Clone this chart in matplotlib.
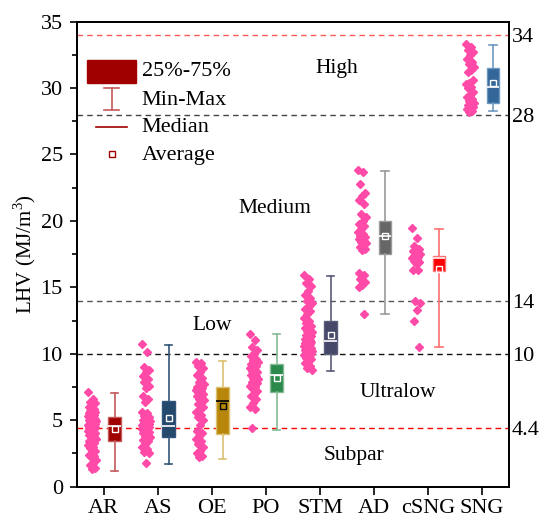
import matplotlib
matplotlib.use('Agg')
import matplotlib.pyplot as plt
from matplotlib.patches import Rectangle
from matplotlib.lines import Line2D

plt.rcParams['font.family'] = ['Liberation Serif', 'DejaVu Serif']
plt.rcParams['mathtext.fontset'] = 'custom'
plt.rcParams['mathtext.rm'] = 'Liberation Serif'

CATEGORIES = ["AR", "AS", "OE", "PO", "STM", "AD", "cSNG", "SNG"]

# box statistics
Q1 = [3.46, 3.76, 3.97, 7.15, 9.98, 17.48, 16.25, 28.87]
MEDIAN = [4.57, 4.59, 6.47, 8.43, 10.93, 18.89, 17.18, 30.05]
Q3 = [5.21, 6.42, 7.52, 9.20, 12.44, 19.96, 17.36, 31.53]
MEAN = [4.36, 5.14, 6.04, 8.15, 11.39, 18.90, 16.38, 30.35]
WMIN = [1.20, 1.71, 2.08, 4.27, 8.70, 13.02, 10.48, 28.24]
WMAX = [7.02, 10.66, 9.48, 11.50, 15.83, 23.73, 19.41, 33.23]

# individual samples
AR = [7.1, 6.6, 6.4, 6.3, 6.2, 6.0, 5.8, 5.7, 5.6, 5.5, 5.5, 5.4, 5.3, 5.3,
      5.2, 5.2, 5.1, 5.1, 5.0, 5.0, 4.9, 4.9, 4.8, 4.8, 4.7, 4.7, 4.6, 4.6,
      4.5, 4.5, 4.4, 4.4, 4.3, 4.3, 4.2, 4.2, 4.1, 4.0, 4.0, 3.9, 3.8, 3.7,
      3.6, 3.5, 3.4, 3.3, 3.2, 3.1, 3.0, 2.9, 2.7, 2.6, 2.4, 2.3, 2.2, 2.0,
      1.8, 1.6, 1.4, 1.3]
AS = [10.7, 10.1, 9.0, 8.8, 8.6, 8.3, 8.1, 7.9, 7.6, 7.4, 6.8, 6.6, 6.4, 5.6,
      5.5, 5.3, 5.2, 5.1, 5.0, 5.0, 4.9, 4.9, 4.8, 4.8, 4.7, 4.7, 4.6, 4.6,
      4.5, 4.5, 4.5, 4.4, 4.4, 4.3, 4.3, 4.2, 4.2, 4.1, 4.0, 4.0, 3.9, 3.8,
      3.7, 3.6, 3.5, 3.4, 3.2, 3.0, 2.8, 2.6, 2.5, 1.8]
OE = [9.4, 9.3, 9.1, 8.9, 8.6, 8.4, 8.2, 7.9, 7.7, 7.6, 7.5, 7.4, 7.4, 7.3,
      7.2, 7.1, 7.0, 6.9, 6.8, 6.7, 6.6, 6.5, 6.4, 6.2, 6.0, 5.8, 5.6, 5.4,
      5.2, 5.0, 4.6, 4.2, 4.0, 3.8, 3.6, 3.4, 3.2, 3.0, 2.7, 2.5, 2.3, 2.2]
PO = [11.5, 11.0, 10.5, 10.3, 10.0, 9.8, 9.6, 9.5, 9.4, 9.3, 9.2, 9.1, 9.0,
      8.9, 8.8, 8.7, 8.6, 8.5, 8.4, 8.3, 8.2, 8.1, 8.0, 7.9, 7.8, 7.7, 7.6,
      7.5, 7.4, 7.2, 7.0, 6.8, 6.6, 6.3, 6.0, 5.8, 4.4]
STM = [15.9, 15.6, 15.3, 15.1, 14.7, 14.4, 14.2, 14.0, 13.8, 13.6, 13.4, 13.2,
       13.0, 12.7, 12.5, 12.3, 12.1, 12.0, 11.9, 11.8, 11.7, 11.6, 11.5, 11.4,
       11.3, 11.2, 11.1, 11.0, 11.0, 10.9, 10.8, 10.8, 10.7, 10.6, 10.6, 10.5,
       10.5, 10.4, 10.4, 10.3, 10.3, 10.2, 10.2, 10.1, 10.1, 10.0, 10.0, 9.9,
       9.8, 9.7, 9.6, 9.5, 9.3, 9.1, 8.9, 8.8]
AD = [23.8, 23.7, 22.8, 22.1, 21.9, 21.6, 21.3, 20.5, 20.3, 20.0, 19.8, 19.6,
      19.4, 19.2, 19.0, 18.9, 18.8, 18.7, 18.6, 18.5, 18.4, 18.3, 18.2, 18.0,
      17.9, 17.8, 16.1, 15.9, 15.6, 15.4, 15.2, 15.0, 13.0]
CSNG = [19.5, 18.7, 18.1, 17.9, 17.8, 17.7, 17.6, 17.5, 17.5, 17.4, 17.3, 17.3,
        17.2, 17.2, 17.1, 17.0, 16.9, 16.8, 16.3, 16.3, 14.0, 13.8, 13.3, 12.5,
        10.5]
SNG = [33.3, 33.1, 32.9, 32.7, 32.5, 32.2, 32.0, 31.8, 31.6, 31.4, 31.2, 30.6,
       30.4, 30.3, 30.1, 30.0, 29.7, 29.5, 29.3, 29.2, 29.0, 28.9, 28.8, 28.7,
       28.6, 28.5, 28.4, 28.3, 28.2]
SAMPLES = [AR, AS, OE, PO, STM, AD, CSNG, SNG]

THRESHOLDS = [34, 28, 14, 10, 4.4]
THRESH_COLORS = ['#ff5a5a', '#444444', '#555555', '#111111', '#ff0000']
RIGHT_TICKS = [4.4, 10, 14, 28, 34]
RIGHT_LABELS = ["4.4", "10", "14", "28", "34"]

REGIONS = [("High", 4.31, 31.5), ("Medium", 3.16, 20.9), ("Low", 2.0, 12.1),
           ("Ultralow", 5.44, 7.1), ("Subpar", 4.64, 2.37)]

FACE = ['#a00000', '#25486d', '#b8860b', '#2a8a4c', '#46486a', '#666666',
        '#ff0000', '#336699']
WHISK = ['#c45a5a', '#33557a', '#dcc070', '#86bb96', '#5a5c7a', '#9a9a9a',
         '#ff7070', '#7099c0']
MED_COL = ['white', 'white', 'black', 'white', 'white', 'white', 'white', 'white']

fig = plt.figure(figsize=(5.41, 5.19), dpi=100)
ax = fig.add_axes([0.1418, 0.0626, 0.7991, 0.8956])

for y, c in zip(THRESHOLDS, THRESH_COLORS):
    ax.axhline(y, color=c, lw=1.0, ls=(0, (4, 3)), zorder=1)

# scatter of individual samples, offset to the left of each tick
for i, vals in enumerate(SAMPLES):
    xs = [i - 0.22 + 0.15 * (((k * 0.618034) % 1) - 0.5) for k in range(len(vals))]
    ax.plot(xs, vals, 'D', ms=3.6, color='#ff4aa8', mec='#ff4aa8', zorder=3)

stats = []
for i in range(len(CATEGORIES)):
    stats.append(dict(q1=Q1[i], med=MEDIAN[i], q3=Q3[i], mean=MEAN[i],
                      whislo=WMIN[i], whishi=WMAX[i], fliers=[]))

for i, st in enumerate(stats):
    ax.bxp([st], positions=[i + 0.2], widths=0.23, patch_artist=True,
           showmeans=True, showfliers=False,
           boxprops=dict(facecolor=FACE[i], edgecolor=WHISK[i], lw=1),
           whiskerprops=dict(color=WHISK[i], lw=1.2),
           capprops=dict(color=WHISK[i], lw=1.2),
           capwidths=0.14,
           medianprops=dict(color=MED_COL[i], lw=1.2),
           meanprops=dict(marker='s', ms=5, mfc='none', mec=MED_COL[i], mew=1),
           zorder=4)

for txt, x, y in REGIONS:
    ax.text(x, y, txt, ha='center', va='center', fontsize=15.5)

ax.set_xlim(-0.5, 7.5)
ax.set_ylim(0, 35)
ax.set_xticks(range(len(CATEGORIES)))
ax.set_xticklabels(CATEGORIES)
ax.set_yticks(range(0, 36, 5))
ax.set_yticks([2.5 + 5 * k for k in range(7)], minor=True)
ax.tick_params(axis='both', labelsize=16, direction='out', width=1.2)
ax.tick_params(axis='x', length=6, pad=3)
ax.tick_params(axis='y', which='major', length=5, pad=5)
ax.tick_params(axis='y', which='minor', length=3.5, width=1.2)
ax.set_ylabel("LHV (MJ/m$^3$)", fontsize=15, labelpad=2)
for s in ax.spines.values():
    s.set_linewidth(1.3)

ax2 = ax.twinx()
ax2.set_ylim(0, 35)
ax2.set_yticks(RIGHT_TICKS)
ax2.set_yticklabels(RIGHT_LABELS)
ax2.tick_params(axis='y', length=0, pad=2, labelsize=16)
for s in ax2.spines.values():
    s.set_linewidth(1.3)

# legend drawn by hand in axes fraction
tr = ax.transAxes
ax.add_patch(Rectangle((0.0245, 0.8688), 0.1125, 0.0488, transform=tr,
                       facecolor='#a00000', edgecolor='#a00000', zorder=5))
ax.add_line(Line2D([0.0812, 0.0812], [0.8098, 0.858], transform=tr,
                   color='#c45a5a', lw=1.2, zorder=5))
for yy in (0.8098, 0.858):
    ax.add_line(Line2D([0.0639, 0.0986], [yy, yy], transform=tr,
                       color='#c45a5a', lw=1.2, zorder=5))
ax.add_line(Line2D([0.0447, 0.1157], [0.774, 0.774], transform=tr,
                   color='#a00000', lw=1.2, zorder=5))
ax.plot([0.0812], [0.7154], 's', transform=tr, ms=5, mfc='none',
        mec='#a00000', mew=1, zorder=5)
for txt, yy in [("25%-75%", 0.8925), ("Min-Max", 0.830),
                ("Median", 0.773), ("Average", 0.7132)]:
    ax.text(0.150, yy, txt, transform=tr, ha='left', va='center', fontsize=16)

fig.savefig("out.png", dpi=100)
